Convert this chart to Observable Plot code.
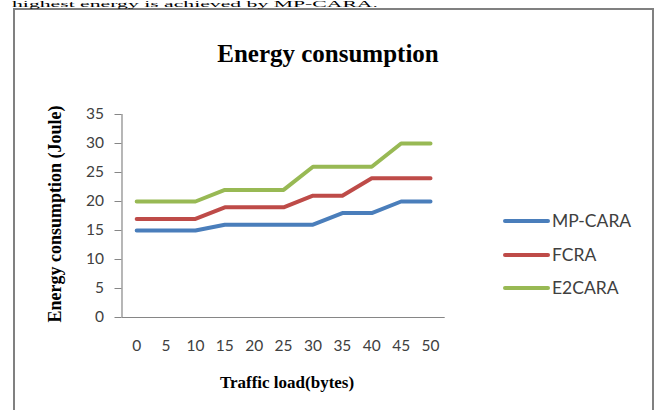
<!DOCTYPE html>
<html>
<head>
<meta charset="utf-8">
<script src="https://cdn.jsdelivr.net/npm/d3@7"></script>
<script src="https://cdn.jsdelivr.net/npm/@observablehq/plot@0.6"></script>
<style>
  html, body { margin: 0; padding: 0; background: #fff; }
  #chart { width: 655px; height: 410px; overflow: hidden; }
</style>
</head>
<body>
<div id="chart"></div>
<script>
const trafficLoad = [0, 5, 10, 15, 20, 25, 30, 35, 40, 45, 50];
const mpCara = [15, 15, 15, 16, 16, 16, 16, 18, 18, 20, 20];
const fcra   = [17, 17, 17, 19, 19, 19, 21, 21, 24, 24, 24];
const e2cara = [20, 20, 20, 22, 22, 22, 26, 26, 26, 30, 30];
const seriesNames = ["MP-CARA", "FCRA", "E2CARA"];
const seriesColors = ["#4A7EBB", "#BE4B48", "#98B954"];
const yTicks = [0, 5, 10, 15, 20, 25, 30, 35];

const seriesValues = [mpCara, fcra, e2cara];
const data = seriesNames.flatMap((name, s) =>
  trafficLoad.map((x, i) => ({ series: name, x, y: seriesValues[s][i] })));

const sans = "Lato, 'Open Sans', sans-serif";
const serif = "'Liberation Serif', 'DejaVu Serif', serif";

const plot = Plot.plot({
  width: 655,
  height: 410,
  marginLeft: 121.5,
  marginRight: 210.3,
  marginTop: 114,
  marginBottom: 93,
  style: { background: "transparent", fontFamily: sans, fontSize: "15px", color: "#404040" },
  x: { domain: [-2.5, 52.5], ticks: trafficLoad, label: null },
  y: { domain: [0, 35], ticks: yTicks, label: null },
  color: { domain: seriesNames, range: seriesColors },
  marks: [
    Plot.ruleX([-2.5], { stroke: "#868686", strokeWidth: 1.2 }),
    Plot.ruleY([0], { stroke: "#868686", strokeWidth: 1.2 }),
    Plot.axisY({ ticks: yTicks, tickSize: 7, tickPadding: 11, stroke: "#868686", fill: "#404040", label: null, fontSize: 15.5 }),
    Plot.axisX({ ticks: trafficLoad, tickSize: 0, tickPadding: 22, fill: "#404040", label: null, fontSize: 15.5 }),
    Plot.line(data, { x: "x", y: "y", z: "series", stroke: "series", strokeWidth: 4, strokeLinejoin: "round", strokeLinecap: "round" })
  ]
});

document.getElementById("chart").appendChild(plot);
const svg = d3.select(plot);

// outer chart-area border
svg.insert("rect", ":first-child")
  .attr("x", 14).attr("y", 9).attr("width", 639).attr("height", 430)
  .attr("fill", "#fff").attr("stroke", "#808080").attr("stroke-width", 2);

// line of surrounding text at the top (kept fully visible)
svg.append("text")
  .attr("x", 12).attr("y", 6.5).attr("text-anchor", "start")
  .attr("font-family", serif).attr("font-size", 9).attr("fill", "#000")
  .attr("textLength", 366).attr("lengthAdjust", "spacingAndGlyphs")
  .text("highest energy is achieved by MP-CARA.");

// title
svg.append("text")
  .attr("x", 328).attr("y", 62).attr("text-anchor", "middle")
  .attr("font-family", serif).attr("font-weight", "bold").attr("font-size", 25).attr("fill", "#000")
  .text("Energy consumption");

// y axis title
svg.append("text")
  .attr("transform", "translate(61,214) rotate(-90)").attr("text-anchor", "middle")
  .attr("font-family", serif).attr("font-weight", "bold").attr("font-size", 18).attr("fill", "#000")
  .text("Energy consumption (Joule)");

// x axis title
svg.append("text")
  .attr("x", 287).attr("y", 388).attr("text-anchor", "middle")
  .attr("font-family", serif).attr("font-weight", "bold").attr("font-size", 17).attr("fill", "#000")
  .text("Traffic load(bytes)");

// legend
const legendY = [221, 255, 288];
seriesNames.forEach((name, i) => {
  svg.append("line")
    .attr("x1", 505).attr("x2", 548).attr("y1", legendY[i]).attr("y2", legendY[i])
    .attr("stroke", seriesColors[i]).attr("stroke-width", 4).attr("stroke-linecap", "round");
  svg.append("text")
    .attr("x", 552).attr("y", legendY[i]).attr("dy", "0.35em").attr("text-anchor", "start")
    .attr("font-family", sans).attr("font-size", 17.5).attr("fill", "#404040")
    .text(name);
});
</script>
</body>
</html>
